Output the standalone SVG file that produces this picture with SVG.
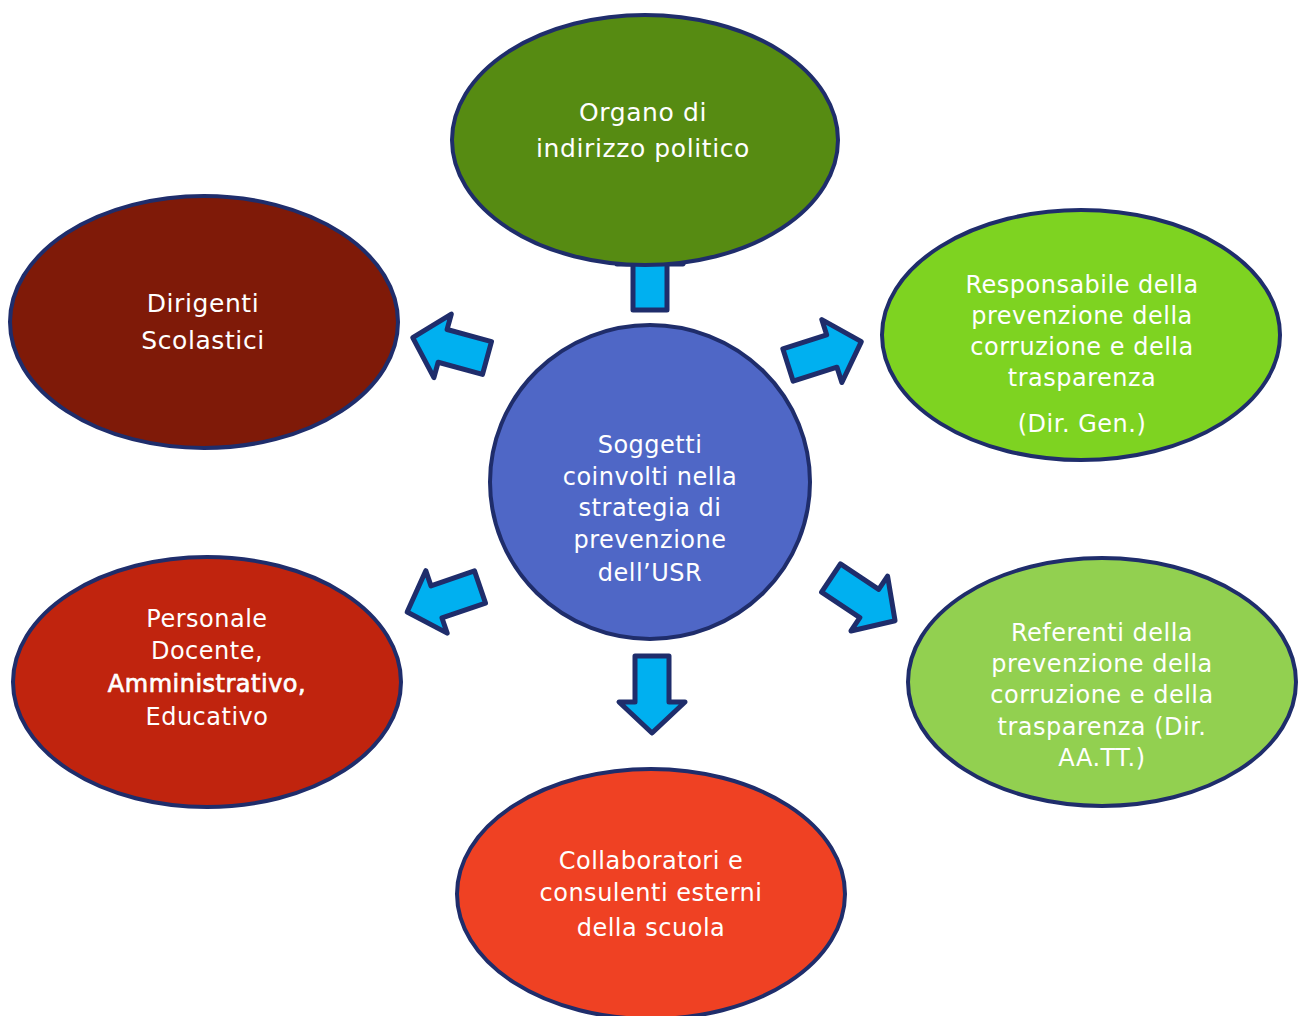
<svg xmlns="http://www.w3.org/2000/svg" width="1298" height="1016" viewBox="0 0 1298 1016">
<style>
.node{stroke:#1F2D6B;stroke-width:4}
.arr{fill:#00B0F0;stroke:#1F2D6B;stroke-width:5;stroke-linejoin:round}
text{font-family:"DejaVu Sans","Liberation Sans",sans-serif;font-size:24px;fill:#FFFFFF;text-anchor:middle;letter-spacing:0.5px}
.big{font-size:25px;letter-spacing:0.6px}
.b{stroke:#FFFFFF;stroke-width:0.7px}
</style>
<defs>
<polygon id="arrow" class="arr" points="0,-17 46,-17 46,-33 77,0 46,33 46,17 0,17"/>
</defs>
<rect width="1298" height="1016" fill="#FFFFFF"/>
<g id="connectors">
<use href="#arrow" transform="translate(650,310) rotate(-90)"/>
<use href="#arrow" transform="translate(652,656) rotate(90)"/>
<use href="#arrow" transform="translate(487,358) rotate(195.3)"/>
<use href="#arrow" transform="translate(788,365) rotate(-17.7)"/>
<use href="#arrow" transform="translate(480,587) rotate(161.1)"/>
<use href="#arrow" transform="translate(831,578) rotate(33.7)"/>
</g>
<g id="organo">
<ellipse class="node" cx="645" cy="140" rx="193" ry="125" fill="#568B12"/>
<text class="big" x="643" y="121">Organo di</text>
<text class="big" x="643" y="157">indirizzo politico</text>
</g>
<g id="dirigenti">
<ellipse class="node" cx="204" cy="322" rx="194" ry="126" fill="#7F1A08"/>
<text class="big" x="203" y="312">Dirigenti</text>
<text class="big" x="203" y="349">Scolastici</text>
</g>
<g id="responsabile">
<ellipse class="node" cx="1081" cy="335" rx="199" ry="125" fill="#7ED321"/>
<text x="1082" y="293">Responsabile della</text>
<text x="1082" y="324">prevenzione della</text>
<text x="1082" y="355">corruzione e della</text>
<text x="1082" y="386">trasparenza</text>
<text x="1082" y="432">(Dir. Gen.)</text>
</g>
<g id="centro">
<ellipse class="node" cx="650" cy="482" rx="160" ry="157" fill="#4F67C6"/>
<text x="650" y="453">Soggetti</text>
<text x="650" y="485">coinvolti nella</text>
<text x="650" y="516">strategia di</text>
<text x="650" y="548">prevenzione</text>
<text x="650" y="581">dell’USR</text>
</g>
<g id="personale">
<ellipse class="node" cx="207" cy="682" rx="194" ry="125" fill="#C0240E"/>
<text x="207" y="627">Personale</text>
<text x="207" y="659">Docente,</text>
<text x="207" y="692" class="b">Amministrativo,</text>
<text x="207" y="725">Educativo</text>
</g>
<g id="referenti">
<ellipse class="node" cx="1102" cy="682" rx="194" ry="124" fill="#92D050"/>
<text x="1102" y="641">Referenti della</text>
<text x="1102" y="672">prevenzione della</text>
<text x="1102" y="703">corruzione e della</text>
<text x="1102" y="735">trasparenza (Dir.</text>
<text x="1102" y="766">AA.TT.)</text>
</g>
<g id="collaboratori">
<ellipse class="node" cx="651" cy="894" rx="194" ry="125" fill="#EF4123"/>
<text x="651" y="869">Collaboratori e</text>
<text x="651" y="901">consulenti esterni</text>
<text x="651" y="936">della scuola</text>
</g>
</svg>
